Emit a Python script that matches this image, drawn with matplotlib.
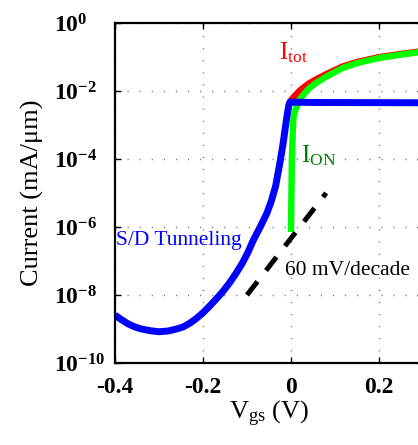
import matplotlib
matplotlib.use('Agg')
import matplotlib.pyplot as plt
import numpy as np

# S/D tunneling current (blue)
tunnel_vgs = [-0.40, -0.385, -0.37, -0.355, -0.34, -0.32, -0.30, -0.28, -0.26,
              -0.245, -0.23, -0.215, -0.20, -0.185, -0.17, -0.155, -0.14,
              -0.125, -0.11, -0.098, -0.086, -0.07, -0.055, -0.045, -0.035,
              -0.025, -0.018, -0.012, -0.008, -0.005, -0.002, 0.005, 0.05,
              0.30]
tunnel_cur = [2.57e-9, 1.86e-9, 1.41e-9, 1.15e-9, 1.0e-9, 8.9e-10, 8.3e-10,
              8.7e-10, 1.0e-9, 1.15e-9, 1.48e-9, 2.04e-9, 3.0e-9, 4.7e-9,
              7.6e-9, 1.26e-8, 2.24e-8, 4.3e-8, 8.9e-8, 1.78e-7, 4.0e-7,
              1.0e-6, 2.5e-6, 5.6e-6, 1.58e-5, 7.9e-5, 2.8e-4, 1.0e-3,
              2.24e-3, 3.8e-3, 4.8e-3, 4.7e-3, 4.6e-3, 4.5e-3]

# thermionic on current (green)
on_vgs = [0.0, 0.002, 0.005, 0.007, 0.01, 0.02, 0.03, 0.043, 0.06, 0.08,
          0.10, 0.118, 0.15, 0.20, 0.25, 0.30]
on_cur = [7.1e-7, 1.0e-4, 1.3e-3, 2.0e-3, 2.8e-3, 5.6e-3, 8.3e-3, 1.26e-2,
          1.82e-2, 2.63e-2, 3.63e-2, 4.79e-2, 6.61e-2, 9.33e-2, 0.1175, 0.1445]

# total current (red)
tot_vgs = [-0.005, 0.0, 0.005, 0.01, 0.02, 0.03, 0.043, 0.06, 0.08, 0.10,
           0.118, 0.15, 0.20, 0.25, 0.30]
tot_cur = [4.0e-3, 5.2e-3, 6.3e-3, 7.4e-3, 1.02e-2, 1.29e-2, 1.72e-2, 2.28e-2,
           3.09e-2, 4.09e-2, 5.25e-2, 7.07e-2, 9.79e-2, 0.122, 0.149]

# 60 mV/decade reference
ref_vgs = [-0.10, 0.08]
ref_cur = [1e-8, 1e-5]

x_ticks = [-0.4, -0.2, 0, 0.2]
x_labels = ['-0.4', '-0.2', '0', '0.2']
y_exponents = [0, -2, -4, -6, -8, -10]

plt.rcParams['font.family'] = ['Liberation Serif', 'DejaVu Serif']
plt.rcParams['mathtext.default'] = 'regular'

fig = plt.figure(figsize=(4.18, 4.45), dpi=100)
ax = fig.add_axes([0.2751, 0.1843, 0.7368, 0.764])

ax.plot(tot_vgs, tot_cur, color='#ff0000', lw=4.8, solid_capstyle='butt')
ax.plot(on_vgs, on_cur, color='#00ff00', lw=4.6, solid_capstyle='butt')
ax.plot(tunnel_vgs, tunnel_cur, color='#0000ff', lw=5.0, solid_capstyle='butt')
ax.plot(ref_vgs, ref_cur, color='black', lw=3.6, dashes=(3.4, 2.8),
        dash_capstyle='butt')

ax.set_yscale('log')
ax.set_xlim(-0.4, 0.3)
ax.set_ylim(1e-10, 1)

ax.set_xticks(x_ticks)
ax.set_xticklabels(x_labels, fontsize=17, fontweight='bold')
ax.set_yticks([10.0 ** e for e in y_exponents])
ax.set_yticklabels([r'$10^{%d}$' % e for e in y_exponents],
                   fontsize=17, fontweight='bold')
ax.yaxis.set_minor_locator(matplotlib.ticker.NullLocator())
for lab in ax.get_yticklabels():
    lab.set_horizontalalignment('left')

ax.tick_params(axis='both', which='major', direction='in', length=4,
               width=1, top=True, right=True)
ax.tick_params(axis='x', pad=10)
ax.tick_params(axis='y', pad=44)

ax.grid(True, which='major', color='#707070', lw=1.0,
        linestyle=(0, (0.8, 7.9)))

for side in ax.spines.values():
    side.set_linewidth(1.6)

ax.set_xlabel(r'$V_{gs}$ (V)', fontsize=19)
ax.set_ylabel(u'Current (mA/\u03bcm)', fontsize=19)
ax.xaxis.set_label_coords(0.5, -0.105)
ax.yaxis.set_label_coords(-0.232, 0.5)

ax.text(-0.027, 10 ** -1.06, r'$I_{tot}$', color='#ff0000', fontsize=18)
ax.text(0.023, 10 ** -4.09, r'$I_{ON}$', color='#008000', fontsize=18)
ax.text(-0.397, 10 ** -6.53, 'S/D Tunneling', color='#0000ff', fontsize=15.5)
ax.text(-0.0136, 10 ** -7.41, '60 mV/decade', color='black', fontsize=15.5)

fig.savefig('out.png', dpi=100)
